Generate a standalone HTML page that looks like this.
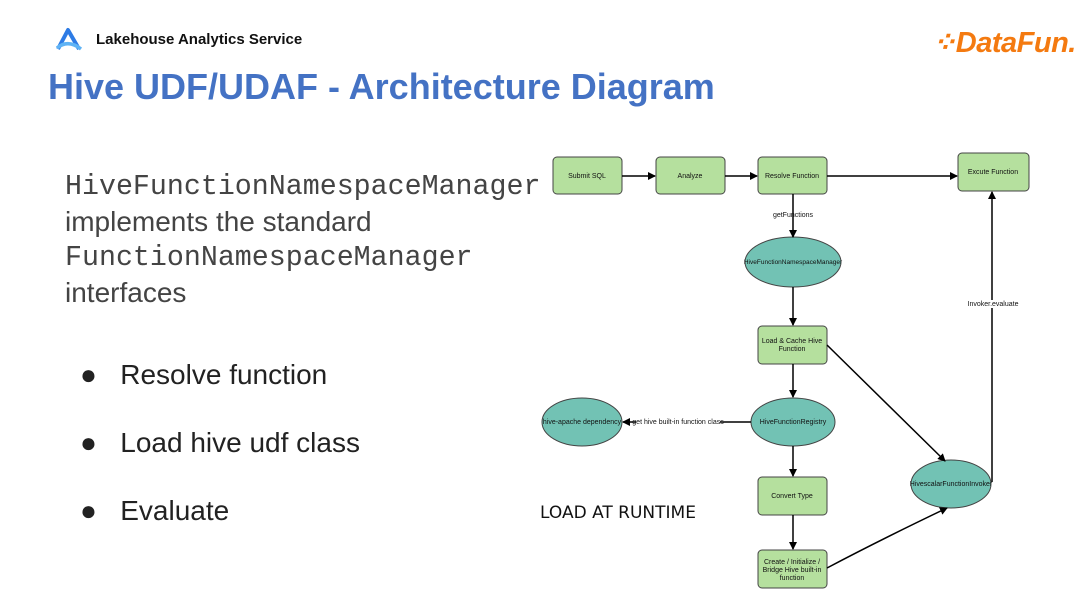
<!DOCTYPE html>
<html><head><meta charset="utf-8"><style>
body{margin:0;width:1080px;height:608px;background:#fff;position:relative;overflow:hidden;font-family:"Liberation Sans",sans-serif}
.a{position:absolute;white-space:nowrap}
</style></head><body>
<svg class="a" style="left:55px;top:27px" width="28" height="26" viewBox="0 0 28 26"><path d="M3 22 L13 3 L24 22" fill="none" stroke="#2d7be5" stroke-width="4" stroke-linejoin="round"/><path d="M2 21 Q13 12 26 22" fill="none" stroke="#5fb3f5" stroke-width="3.5"/></svg>
<div class="a" style="left:96px;top:31px;font-size:15px;font-weight:bold;color:#111">Lakehouse Analytics Service</div>
<div class="a" style="left:932px;top:25px;font-size:29px;font-weight:bold;font-style:italic;color:#f47a10;letter-spacing:-0.5px">⁘DataFun.</div>
<div class="a" style="left:48px;top:66px;font-size:36px;font-weight:bold;color:#4472c4">Hive UDF/UDAF - Architecture Diagram</div>
<div class="a" style="left:65px;top:168px;font-size:28px;line-height:34.5px;color:#444">
<span style="font-family:'Liberation Mono',monospace;font-size:28.3px">HiveFunctionNamespaceManager</span><br>implements the standard<br><span style="font-family:'Liberation Mono',monospace;font-size:28.3px">FunctionNamespaceManager</span><br>interfaces</div>
<div class="a" style="left:80px;top:359px;font-size:28px;color:#222">●&nbsp;&nbsp;&nbsp;Resolve function</div>
<div class="a" style="left:80px;top:427px;font-size:28px;color:#222">●&nbsp;&nbsp;&nbsp;Load hive udf class</div>
<div class="a" style="left:80px;top:495px;font-size:28px;color:#222">●&nbsp;&nbsp;&nbsp;Evaluate</div>
<svg class="a" style="left:0;top:0" width="1080" height="608" font-family="Liberation Sans,sans-serif" font-size="7">
<defs><marker id="m" markerWidth="8" markerHeight="8" refX="7" refY="4" orient="auto" markerUnits="userSpaceOnUse"><path d="M0 0L8 4L0 8z" fill="#000"/></marker></defs>
<g fill="#b5e09e" stroke="#444" stroke-width="1">
<rect x="553" y="157" width="69" height="37" rx="4"/>
<rect x="656" y="157" width="69" height="37" rx="4"/>
<rect x="758" y="157" width="69" height="37" rx="4"/>
<rect x="958" y="153" width="71" height="38" rx="4"/>
<rect x="758" y="326" width="69" height="38" rx="4"/>
<rect x="758" y="477" width="69" height="38" rx="4"/>
<rect x="758" y="550" width="69" height="38" rx="4"/>
</g>
<g fill="#72c2b4" stroke="#444" stroke-width="1">
<ellipse cx="793" cy="262" rx="48" ry="25"/>
<ellipse cx="793" cy="422" rx="42" ry="24"/>
<ellipse cx="582" cy="422" rx="40" ry="24"/>
<ellipse cx="951" cy="484" rx="40" ry="24"/>
</g>
<g stroke="#000" stroke-width="1.5" fill="none" marker-end="url(#m)">
<path d="M622 176H655"/><path d="M725 176H757"/><path d="M827 176H957"/>
<path d="M793 194V237"/><path d="M793 287V325"/><path d="M793 364V397"/>
<path d="M751 422H623"/><path d="M793 446V476"/><path d="M793 515V549"/>
<path d="M827 345L945 461"/><path d="M827 568Q880 540 947 508"/>
<path d="M992 482V192"/>
</g>
<g text-anchor="middle" fill="#111">
<text x="587" y="178">Submit SQL</text><text x="690" y="178">Analyze</text><text x="792" y="178">Resolve Function</text>
<text x="993" y="174">Excute Function</text>
<text x="792" y="343">Load &amp; Cache Hive</text><text x="792" y="351">Function</text>
<text x="792" y="498">Convert Type</text>
<text x="792" y="564">Create / Initialize /</text><text x="792" y="572">Bridge Hive built-in</text><text x="792" y="580">function</text>
<text x="793" y="264" font-size="6.5">HiveFunctionNamespaceManager</text>
<text x="793" y="424">HiveFunctionRegistry</text>
<text x="582" y="424">hive-apache dependency</text>
<text x="951" y="486">HivescalarFunctionInvoker</text>
<rect x="636" y="418" width="84" height="8" fill="#fff"/>
<text x="678" y="424">get hive built-in function class</text>
<text x="793" y="217">getFunctions</text>
<rect x="970" y="300" width="46" height="8" fill="#fff"/>
<text x="993" y="306">Invoker.evaluate</text>
</g>
<text x="540" y="518" font-size="17" fill="#111" font-family="DejaVu Sans,sans-serif">LOAD AT RUNTIME</text>
</svg>
</body></html>
